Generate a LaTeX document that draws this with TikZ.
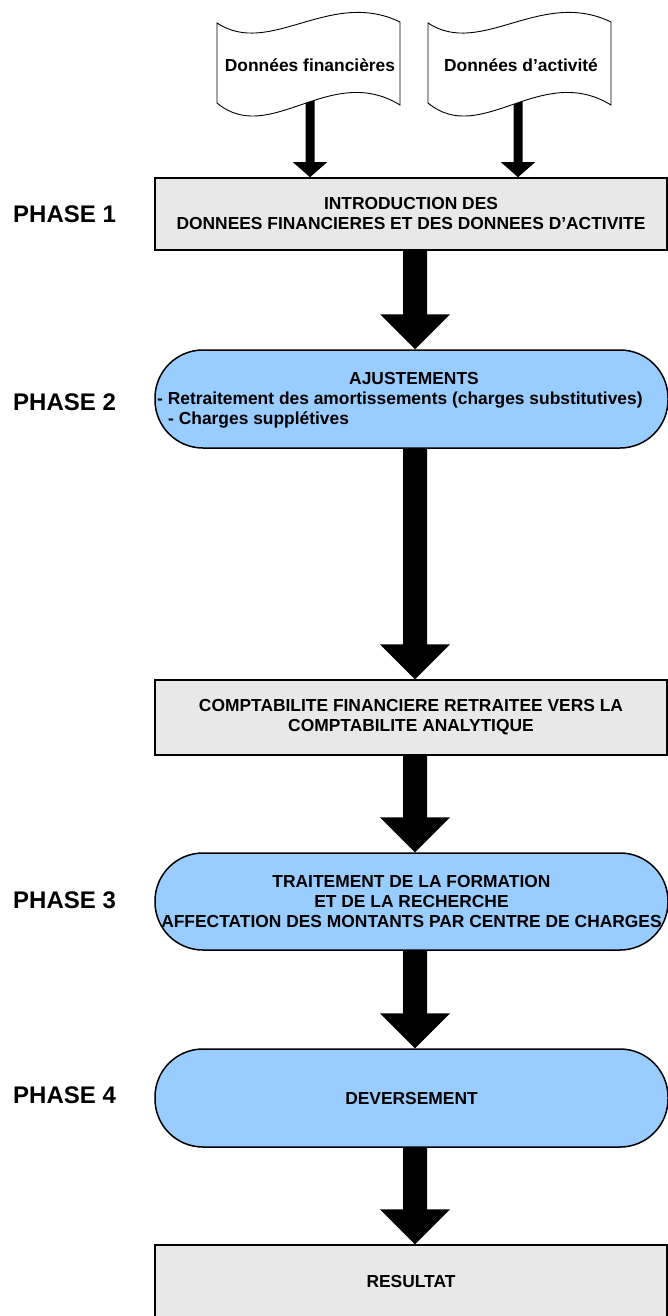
\documentclass[tikz,border=0pt]{standalone}
\usepackage{fontspec}
\setmainfont{Liberation Sans}
\usetikzlibrary{calc}
\definecolor{boxgrey}{RGB}{232,232,232}
\definecolor{termblue}{RGB}{153,204,255}
% #1 from, #2 to (tip), #3 half shaft width, #4 half head width, #5 head length
\newcommand\blockarrow[5]{%
  \fill[black] ($(#1)+(-#3,0)$) -- ($(#2)+(-#3,-#5)$) -- ($(#2)+(-#4,-#5)$) -- (#2)
    -- ($(#2)+(#4,-#5)$) -- ($(#2)+(#3,-#5)$) -- ($(#1)+(#3,0)$) -- cycle;}
\begin{document}
\begin{tikzpicture}[x=1pt,y=-1pt,
  txt/.style={font=\bfseries\fontsize{17.4}{20}\selectfont, inner sep=0pt, align=center},
  phase/.style={font=\bfseries\fontsize{24}{28}\selectfont, inner sep=0pt, anchor=west},
  greybox/.style={draw=black, line width=1.5pt, fill=boxgrey, rectangle, minimum width=512pt},
  term/.style={draw=black, line width=1.5pt, fill=termblue, rectangle, rounded corners=48pt, minimum width=513pt},
  docshape/.style={draw=black, line width=0.9pt, fill=white}]
\useasboundingbox (0,0) rectangle (668,1316);
\clip (0,0) rectangle (668,1316);

% boxes
\node[greybox, minimum height=72pt, txt] (box1) at (411,214)
  {INTRODUCTION DES\\DONNEES FINANCIERES ET DES DONNEES D’ACTIVITE};
\node[term, minimum height=98pt, inner sep=0pt] (box2) at (411.5,399) {};
\node[txt] (aj) at (414,379) {AJUSTEMENTS};
\node[txt, anchor=west] (aj1) at (157,400) {- Retraitement des amortissements (charges substitutives)};
\node[txt, anchor=west] (aj2) at (168,420) {- Charges supplétives};
\node[greybox, minimum height=75pt, txt] (box3) at (411,717.5)
  {COMPTABILITE FINANCIERE RETRAITEE VERS LA\\COMPTABILITE ANALYTIQUE};
\node[term, minimum height=97pt, txt] (box4) at (411.5,901.5)
  {TRAITEMENT DE LA FORMATION\\ET DE LA RECHERCHE\\AFFECTATION DES MONTANTS PAR CENTRE DE CHARGES};
\node[term, minimum height=98pt, txt] (box5) at (411.5,1098) {DEVERSEMENT};
\node[greybox, minimum height=73pt, txt] (box6) at (411,1281.5) {RESULTAT};

% phase labels
\node[phase] (p1) at (13,214) {PHASE 1};
\node[phase] (p2) at (13,402) {PHASE 2};
\node[phase] (p3) at (13,900) {PHASE 3};
\node[phase] (p4) at (13,1095) {PHASE 4};

% arrows
\coordinate (s1) at (310,100);
\coordinate (s2) at (518,100);
\coordinate (ax) at (415,0);
\blockarrow{s1}{box1.north -| s1}{4.5}{17}{15}
\blockarrow{s2}{box1.north -| s2}{4.5}{17}{15}
\blockarrow{box1.south -| ax}{box2.north -| ax}{12}{35}{35}
\blockarrow{box2.south -| ax}{box3.north -| ax}{12}{35}{35}
\blockarrow{box3.south -| ax}{box4.north -| ax}{12}{35}{35}
\blockarrow{box4.south -| ax}{box5.north -| ax}{12}{35}{35}
\blockarrow{box5.south -| ax}{box6.north -| ax}{12}{35}{35}

% documents
\path[docshape] (217,23) .. controls (270,58) and (330,-12) .. (400,22)
  -- (400,105) .. controls (330,62) and (270,147) .. (217,103) -- cycle;
\begin{scope}[xshift=211pt]
\path[docshape] (217,23) .. controls (270,58) and (330,-12) .. (400,22)
  -- (400,105) .. controls (330,62) and (270,147) .. (217,103) -- cycle;
\end{scope}
\node[txt] (doc1) at (310,65) {Données financières};
\node[txt] (doc2) at (521,65) {Données d’activité};
\end{tikzpicture}
\end{document}
